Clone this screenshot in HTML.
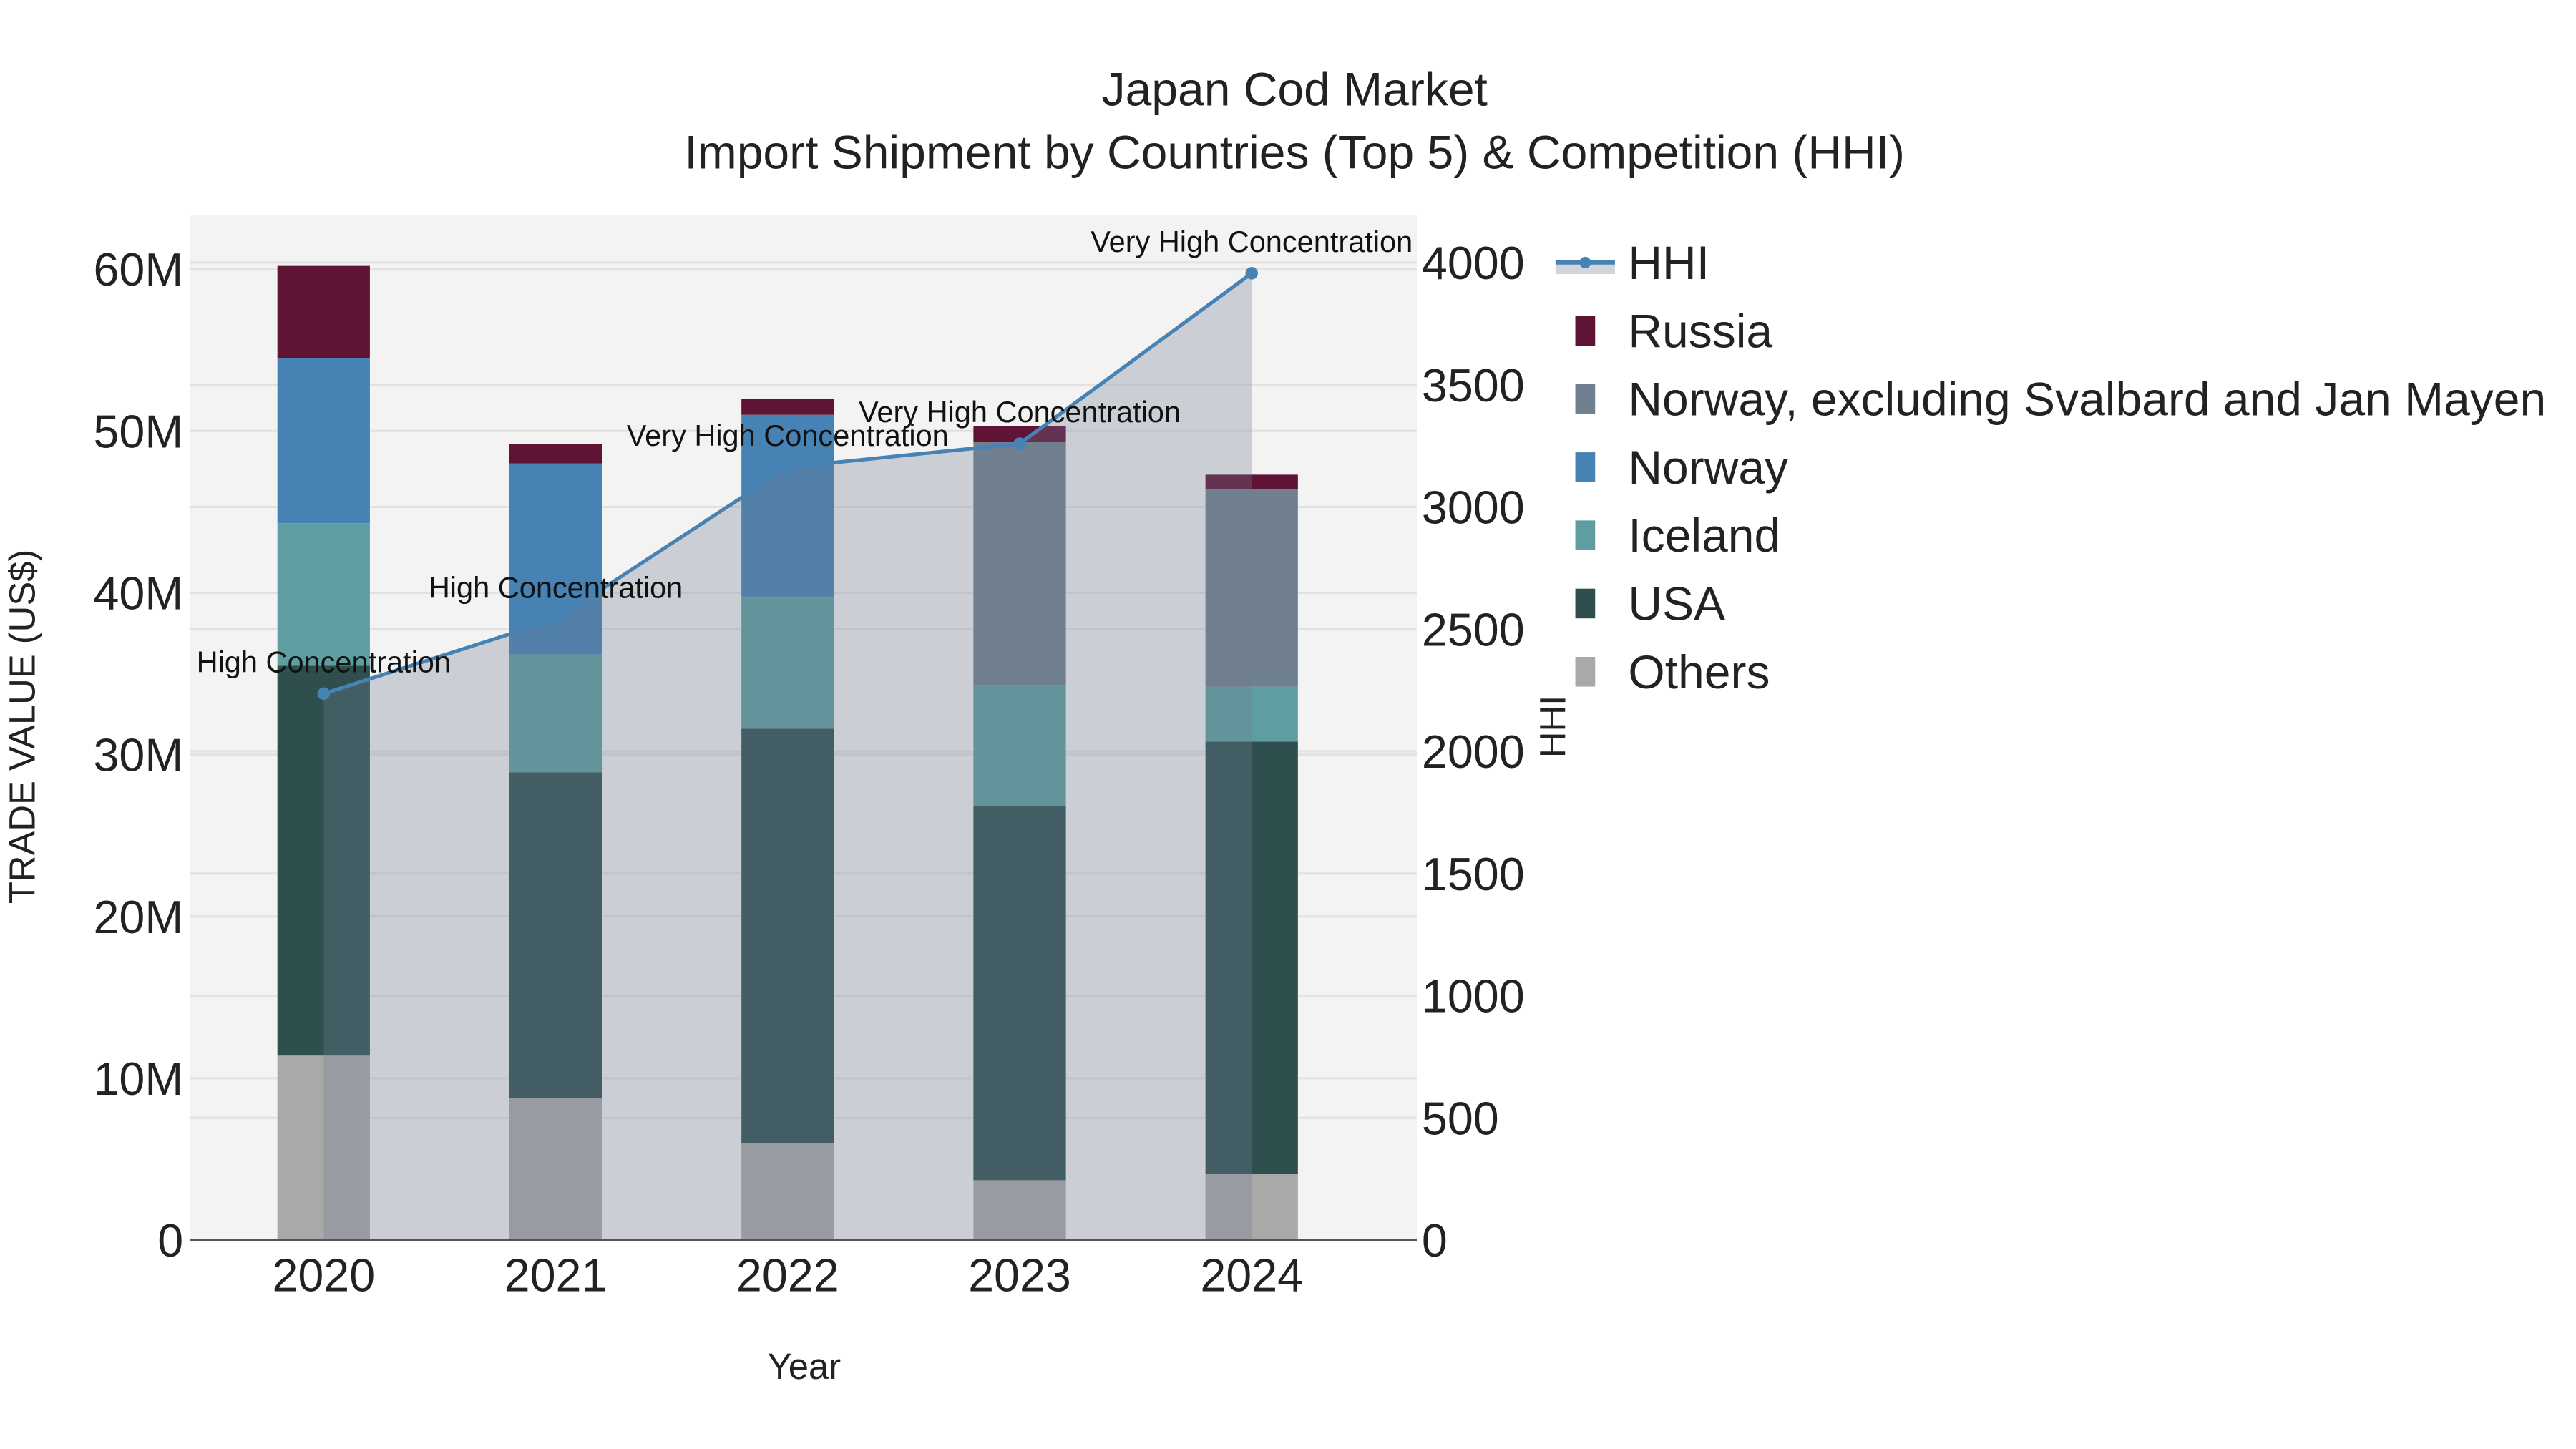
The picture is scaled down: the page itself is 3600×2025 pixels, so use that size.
<!DOCTYPE html>
<html><head><meta charset="utf-8"><style>
html,body{margin:0;padding:0;background:#fff;}
svg{display:block;font-family:"Liberation Sans",Arial,sans-serif;}
</style></head><body>
<svg id="chart" width="3600" height="2025" viewBox="0 0 1560 877.5" xmlns="http://www.w3.org/2000/svg">
<rect x="0" y="0" width="1560" height="877.5" fill="#fff"/>
<rect x="115" y="130" width="743" height="621" fill="#f3f3f3"/>
<g id="grid"></g>
<g id="bars"></g>
<g id="area"></g>
<g id="axes"></g>
<text x="784" y="64" font-size="28.6" text-anchor="middle" fill="#222">Japan Cod Market</text>
<text x="784" y="102" font-size="28.6" text-anchor="middle" fill="#222">Import Shipment by Countries (Top 5) &amp; Competition (HHI)</text>
<text x="487" y="835" font-size="22" text-anchor="middle" fill="#222">Year</text>
<text transform="translate(21,440) rotate(-90)" font-size="22" text-anchor="middle" fill="#222">TRADE VALUE (US$)</text>
<text transform="translate(948,440) rotate(-90)" font-size="22" text-anchor="middle" fill="#222">HHI</text>
<g id="legend"></g>
</svg>
<script>
const years = ["2020","2021","2022","2023","2024"];
const seriesNames = ["Others","USA","Iceland","Norway","Norway, excluding Svalbard and Jan Mayen","Russia"];
const others = [11.4, 8.8, 6.0, 3.7, 4.1];
const usa = [24.1, 20.1, 25.6, 23.1, 26.7];
const iceland = [8.8, 7.3, 8.1, 7.5, 3.4];
const norway = [10.2, 11.8, 11.3, 0, 0];
const norwayExcl = [0, 0, 0, 15.0, 12.2];
const russia = [5.7, 1.2, 1.0, 1.0, 0.9];
const hhi = [2236, 2540, 3162, 3259, 3956];
const hhiLabels = ["High Concentration","High Concentration","Very High Concentration","Very High Concentration","Very High Concentration"];
const leftTicks = [0,10,20,30,40,50,60];
const rightTicks = [0,500,1000,1500,2000,2500,3000,3500,4000];
const colors = ["#a9a9a9","#2f4f4f","#5f9ea0","#4682b4","#708090","#5f1435"];
const NS="http://www.w3.org/2000/svg";
function mk(tag,attrs,parent){const e=document.createElementNS(NS,tag);for(const k in attrs)e.setAttribute(k,attrs[k]);parent.appendChild(e);return e;}
const X0=115,X1=858,Y0=751;
function xPos(i){return 196+i*140.5;}
function yL(v){return Y0-v*9.8;}
function yR(v){return Y0-v*0.148;}
const grid=document.getElementById('grid'),bars=document.getElementById('bars'),area=document.getElementById('area'),axes=document.getElementById('axes'),legend=document.getElementById('legend');
leftTicks.forEach(t=>{
  if(t>0){const g=mk('line',{x1:X0,x2:X1,y1:yL(t),y2:yL(t),stroke:'#e2e2e2','stroke-width':1.3},grid);
  
  }
  const tx=mk('text',{x:111,y:yL(t)+10,'font-size':28,'text-anchor':'end',fill:'#222'},axes);
  tx.textContent=t===0?'0':t+'M';
  
  
});
rightTicks.forEach(t=>{
  if(t>0){const g=mk('line',{x1:X0,x2:X1,y1:yR(t),y2:yR(t),stroke:'#e2e2e2','stroke-width':1.3},grid);
  
  }
  const tx=mk('text',{x:861,y:yR(t)+10,'font-size':28,fill:'#222'},axes);
  tx.textContent=String(t);
  
  
});
const stacks=[others,usa,iceland,norway,norwayExcl,russia];
years.forEach((yr,i)=>{
  let base=0;
  stacks.forEach((s,k)=>{
    const v=s[i]; if(v<=0) return;
    const r=mk('rect',{x:xPos(i)-28,width:56,y:yL(base+v),height:v*9.8,fill:colors[k]},bars);
    
    
    base+=v;
  });
  const tx=mk('text',{x:xPos(i),y:782,'font-size':28,'text-anchor':'middle',fill:'#222'},axes);
  tx.textContent=yr;
  
  
});
let pts=hhi.map((v,i)=>xPos(i)+','+yR(v)).join(' ');
const poly=mk('polygon',{points:xPos(0)+','+Y0+' '+pts+' '+xPos(hhi.length-1)+','+Y0,fill:'rgba(112,126,145,0.3)'},area);


const bl=mk('line',{x1:X0,x2:X1,y1:Y0,y2:Y0,stroke:'#555','stroke-width':1.5},area);


const pl=mk('polyline',{points:pts,fill:'none',stroke:'#4682b4','stroke-width':2.2},area);


hhi.forEach((v,i)=>{
  const c=mk('circle',{cx:xPos(i),cy:yR(v),r:3.8,fill:'#4682b4'},area);
  
  
  const t=mk('text',{x:xPos(i),y:yR(v)-13,'font-size':18,'text-anchor':'middle',fill:'#111'},area);
  t.textContent=hhiLabels[i];
  
  
});
const lg=[["HHI",null],["Russia",colors[5]],["Norway, excluding Svalbard and Jan Mayen",colors[4]],["Norway",colors[3]],["Iceland",colors[2]],["USA",colors[1]],["Others",colors[0]]];
lg.forEach((e,j)=>{
  const y=159+j*41.3;
  const g=mk('g',{},legend);
  
  
  if(e[1]===null){
    mk('rect',{x:942,y:y-1,width:36,height:8,fill:'#d2d6dc'},g);
    mk('line',{x1:942,x2:978,y1:y,y2:y,stroke:'#4682b4','stroke-width':2.5},g);
    mk('circle',{cx:960,cy:y,r:3.5,fill:'#4682b4'},g);
  } else {
    mk('rect',{x:954,y:y-9,width:12,height:18,fill:e[1]},g);
  }
  const t=mk('text',{x:986,y:y+10,'font-size':28.6,fill:'#222'},g);
  t.textContent=e[0];
});
</script>
</body></html>
